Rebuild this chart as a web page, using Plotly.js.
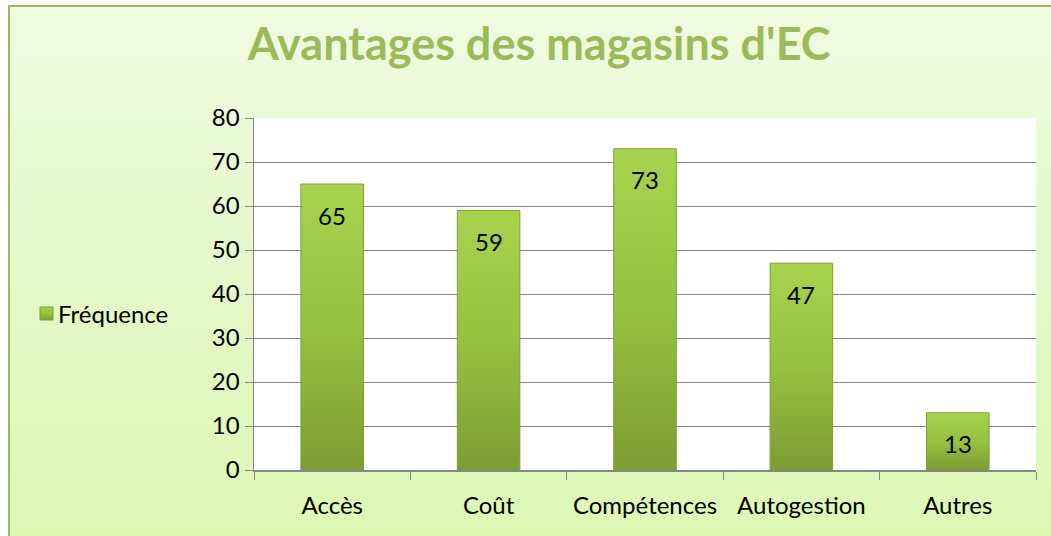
<!DOCTYPE html>
<html>
<head>
<meta charset="utf-8">
<script src="https://cdn.plot.ly/plotly-3.0.1.min.js"></script>
<style>
html,body{margin:0;padding:0;background:#fff;overflow:hidden;}
#bg{position:absolute;left:8px;top:5px;width:1060px;height:560px;border:2px solid #9bbb59;
background:linear-gradient(to bottom,#effbe2 0%,#e4f8c8 50%,#dcf7b2 100%);box-sizing:border-box;}
#chart{position:absolute;left:0;top:0;width:1051px;height:536px;}
</style>
</head>
<body>
<div id="bg"></div>
<div id="chart"></div>
<script>
const categories = ["Accès", "Coût", "Compétences", "Autogestion", "Autres"];
const frequence = [65, 59, 73, 47, 13];
const seriesName = "Fréquence";
const titleText = "Avantages des magasins d'EC";
const yTicks = [0, 10, 20, 30, 40, 50, 60, 70, 80];

const FONT = "Lato, 'Open Sans', sans-serif";
const FS = 24;

const data = [{
  type: "bar",
  x: categories,
  y: frequence,
  name: seriesName,
  marker: {color: "#90b93e", line: {color: "#7f9f36", width: 1}},
  width: 0.4,
  showlegend: false,
  hoverinfo: "skip"
}];

const annotations = categories.map((c, i) => ({
  x: c, y: frequence[i], xref: "x", yref: "y",
  text: String(frequence[i]), showarrow: false,
  yanchor: "middle", yshift: -31,
  font: {family: FONT, size: FS, color: "#000"}
}));
annotations.push({
  xref: "paper", yref: "paper", x: (56 - 254) / 782, y: (470 - 313) / 352,
  xanchor: "left", yanchor: "middle", showarrow: false,
  text: seriesName, font: {family: FONT, size: FS, color: "#000"}
});

const layout = {
  width: 1051, height: 536,
  paper_bgcolor: "rgba(0,0,0,0)",
  plot_bgcolor: "#ffffff",
  margin: {l: 254, r: 15, t: 118, b: 66},
  title: {text: "<b>" + titleText + "</b>", font: {family: FONT, size: 45, color: "#9bbb59"},
          x: 0.513, xanchor: "center", y: 0.947, yanchor: "top"},
  font: {family: FONT, size: FS, color: "#000"},
  xaxis: {
    type: "category",
    tickson: "boundaries",
    ticks: "outside", ticklen: 8, tickcolor: "#868686",
    showline: true, linecolor: "#868686", linewidth: 1.5,
    showgrid: false,
    ticklabelstandoff: 14,
    tickfont: {family: FONT, size: FS, color: "#000"}
  },
  yaxis: {
    range: [0, 80],
    tickvals: yTicks,
    ticks: "outside", ticklen: 8, tickcolor: "#868686",
    showline: true, linecolor: "#868686", linewidth: 1.5,
    gridcolor: "#868686", gridwidth: 1,
    zeroline: false,
    ticklabelstandoff: 0,
    tickfont: {family: FONT, size: FS, color: "#000"}
  },
  showlegend: false,
  annotations: annotations,
  shapes: [{
    type: "rect", xref: "paper", yref: "paper",
    x0: (40 - 254) / 782, x1: (53 - 254) / 782,
    y0: (470 - 320) / 352, y1: (470 - 307) / 352,
    fillcolor: "#90b93e", line: {color: "#7f9f36", width: 1}
  }]
};

Plotly.newPlot("chart", data, layout, {displayModeBar: false, staticPlot: true}).then(gd => {
  const svg = gd.querySelector("svg.main-svg");
  const NS = "http://www.w3.org/2000/svg";
  let defs = svg.querySelector("defs");
  if (!defs) { defs = document.createElementNS(NS, "defs"); svg.insertBefore(defs, svg.firstChild); }
  const g = document.createElementNS(NS, "linearGradient");
  g.setAttribute("id", "barGrad");
  g.setAttribute("x1", "0"); g.setAttribute("y1", "0"); g.setAttribute("x2", "0"); g.setAttribute("y2", "1");
  [["0", "#a8d34e"], ["0.5", "#96c141"], ["1", "#7c9d33"]].forEach(([o, c]) => {
    const s = document.createElementNS(NS, "stop");
    s.setAttribute("offset", o); s.setAttribute("stop-color", c); g.appendChild(s);
  });
  defs.appendChild(g);
  gd.querySelectorAll(".bars path").forEach(p => { p.style.fill = "url(#barGrad)"; });
  gd.querySelectorAll(".shapelayer path").forEach(p => { p.style.fill = "url(#barGrad)"; });
});
</script>
</body>
</html>
